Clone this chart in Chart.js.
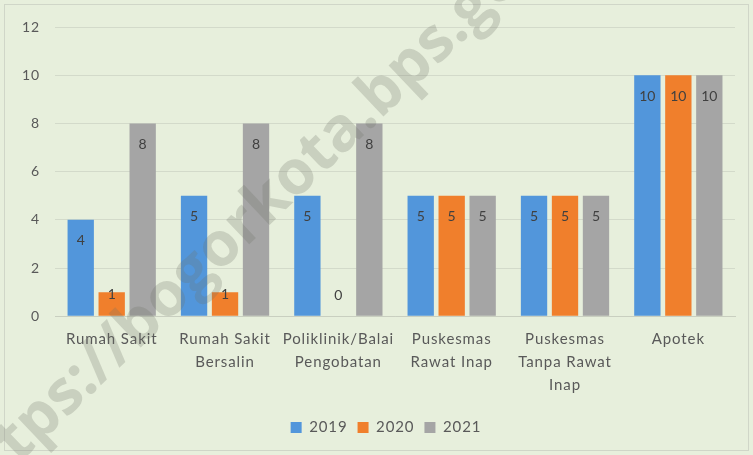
<!DOCTYPE html>
<html>
<head>
<meta charset="utf-8">
<script src="https://cdn.jsdelivr.net/npm/chart.js@4/dist/chart.umd.min.js"></script>
<style>
  html, body { margin: 0; padding: 0; background: #fff; }
  .chart-container { width: 753px; height: 455px; }
</style>
</head>
<body>
<div class="chart-container">
  <canvas id="chart" width="753" height="455"></canvas>
</div>
<script>
const categories = [
  "Rumah Sakit",
  ["Rumah Sakit", "Bersalin"],
  ["Poliklinik/Balai", "Pengobatan"],
  ["Puskesmas", "Rawat Inap"],
  ["Puskesmas", "Tanpa Rawat", "Inap"],
  "Apotek"
];
const years = ["2019", "2020", "2021"];
const values2019 = [4, 5, 5, 5, 5, 10];
const values2020 = [1, 1, 0, 5, 5, 10];
const values2021 = [8, 8, 8, 5, 5, 10];
const colors = ["#5296DB", "#F07F2C", "#A5A5A5"];

const textColor = "#595959";
const fontFamily = "Lato, 'Open Sans', sans-serif";

// background, border and a little letter spacing like the original
const backgroundPlugin = {
  id: "background",
  beforeUpdate(chart) {
    chart.ctx.letterSpacing = "0.9px";
  },
  afterLayout(chart) {
    // legend sits a bit right of the canvas centre
    chart.legend.left += 15;
    chart.legend.right += 15;
  },
  beforeDraw(chart) {
    const ctx = chart.ctx;
    ctx.letterSpacing = "0.9px";
    ctx.save();
    ctx.fillStyle = "#E7EFDC";
    ctx.fillRect(0, 0, chart.width, chart.height);
    ctx.strokeStyle = "#D0D6C8";
    ctx.lineWidth = 1;
    ctx.strokeRect(4.5, 4.5, chart.width - 9, chart.height - 9);
    ctx.restore();
  }
};

// faint diagonal watermark over everything
const watermarkPlugin = {
  id: "watermark",
  afterDraw(chart) {
    const ctx = chart.ctx;
    const text = "https://bogorkota.bps.go.id";
    ctx.save();
    ctx.letterSpacing = "0px";
    ctx.font = "bold 48px 'Open Sans', sans-serif";
    const scale = 840 / ctx.measureText(text).width;
    ctx.translate(262, 208);
    ctx.rotate(-0.76);
    ctx.scale(scale, scale);
    ctx.fillStyle = "rgba(110, 115, 105, 0.25)";
    ctx.textAlign = "center";
    ctx.textBaseline = "middle";
    ctx.fillText(text, 0, 0);
    ctx.restore();
  }
};

// value labels inside the top of each bar
const valueLabels = {
  id: "valueLabels",
  afterDatasetsDraw(chart) {
    const ctx = chart.ctx;
    ctx.save();
    ctx.letterSpacing = "0px";
    ctx.font = "14px " + fontFamily;
    ctx.fillStyle = "#404040";
    ctx.textAlign = "center";
    ctx.textBaseline = "middle";
    chart.data.datasets.forEach((ds, i) => {
      chart.getDatasetMeta(i).data.forEach((bar, j) => {
        const v = ds.data[j];
        const y = Math.min(bar.y + 21, bar.base - 21);
        ctx.fillText(String(v), bar.x, y);
      });
    });
    ctx.restore();
  }
};

const ctx = document.getElementById("chart").getContext("2d");
new Chart(ctx, {
  type: "bar",
  data: {
    labels: categories,
    datasets: [
      { label: years[0], data: values2019, backgroundColor: colors[0] },
      { label: years[1], data: values2020, backgroundColor: colors[1] },
      { label: years[2], data: values2021, backgroundColor: colors[2] }
    ]
  },
  options: {
    responsive: false,
    animation: false,
    layout: { padding: { left: 7, right: 18, top: 27, bottom: 10 } },
    datasets: {
      bar: { categoryPercentage: 0.82, barPercentage: 0.85 }
    },
    plugins: {
      legend: {
        position: "bottom",
        labels: {
          boxWidth: 11,
          boxHeight: 11,
          padding: 10,
          color: textColor,
          font: { family: fontFamily, size: 15 }
        }
      },
      tooltip: { enabled: false }
    },
    scales: {
      x: {
        grid: { display: false },
        border: { color: "#C9CFC0" },
        afterFit(scale) { scale.height += 10; },
        ticks: {
          color: textColor,
          maxRotation: 0,
          autoSkip: false,
          padding: 3,
          font: { family: fontFamily, size: 15, lineHeight: 1.55 }
        }
      },
      y: {
        min: 0,
        max: 12,
        grid: { color: "#D3DACA", drawTicks: false },
        border: { display: false },
        ticks: {
          stepSize: 2,
          color: textColor,
          padding: 15,
          font: { family: fontFamily, size: 14 }
        }
      }
    }
  },
  plugins: [backgroundPlugin, valueLabels, watermarkPlugin]
});
</script>
</body>
</html>
